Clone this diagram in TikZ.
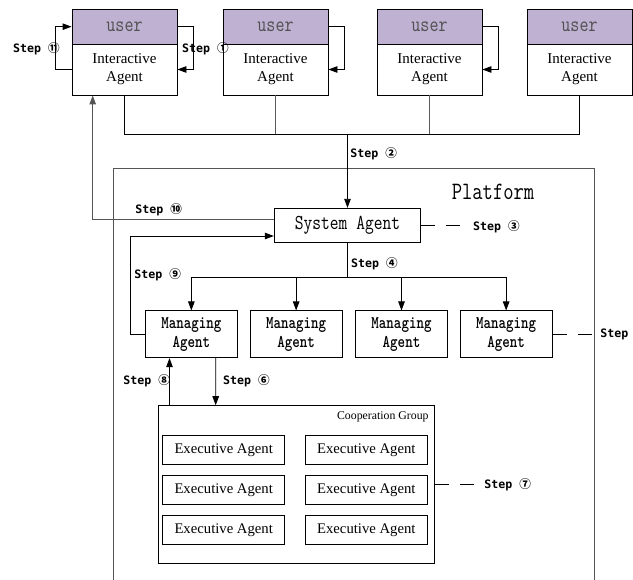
\documentclass[tikz,border=0pt]{standalone}
\usepackage{fontspec}
\usepackage{graphicx}
\setmainfont{Liberation Serif}
\newfontfamily\stepfnt{DejaVu Sans Mono}
\newfontfamily\circfnt{Noto Sans CJK SC}
\usetikzlibrary{arrows.meta,calc}
\definecolor{band}{RGB}{191,177,210}
\definecolor{usertxt}{RGB}{80,80,80}
\definecolor{frame}{RGB}{85,85,85}
\newcommand\vs[1]{\scalebox{1}[1.25]{#1}}
\newcommand\stp[1]{{\stepfnt\bfseries Step {\circfnt\bfseries #1}}}
\tikzset{
  userbox/.style={draw, fill=band, minimum width=105pt, minimum height=34.7pt, inner sep=0pt,
    font=\ttfamily\fontsize{17.5}{20}\selectfont, text=usertxt},
  iabox/.style={draw, fill=white, minimum width=105pt, minimum height=51pt, inner sep=0pt, align=center,
    font=\fontsize{15}{18}\selectfont},
  sabox/.style={draw, fill=white, minimum width=146.4pt, minimum height=34.4pt, inner sep=0pt,
    font=\ttfamily\fontsize{17}{20}\selectfont},
  mabox/.style={draw, fill=white, minimum width=92.3pt, minimum height=46.7pt, inner sep=0pt, align=center,
    font=\ttfamily\bfseries\fontsize{14.3}{19}\selectfont},
  eabox/.style={draw, fill=white, minimum width=121.6pt, minimum height=29.3pt, inner sep=0pt,
    font=\fontsize{14.7}{17}\selectfont},
  grpbox/.style={draw, minimum width=275.9pt, minimum height=158.2pt, inner sep=0pt},
  steplbl/.style={anchor=west, inner sep=0pt, font=\fontsize{11.6}{14}\selectfont},
  arr/.style={-{Triangle[length=9pt,width=6.5pt]}},
  dsh/.style={dash pattern=on 14pt off 11pt},
}
\begin{document}
\begin{tikzpicture}[x=1pt,y=-1pt,line width=0.9pt]
\useasboundingbox (0,0) rectangle (633,580);
% platform frame
\draw[frame] (113.6,168.5) rectangle (594.3,600);
\node[inner sep=0pt, font=\ttfamily\fontsize{20}{24}\selectfont] (plat) at (493,191.7) {\vs{Platform}};
% top boxes
\foreach \i/\x in {1/124.5,2/275.5,3/429.5,4/579.5}{
  \node[userbox] (u\i) at (\x,26.7) {\vs{user}};
  \node[iabox] (i\i) at (\x,69.5) {Interactive\\Agent};
}
% system agent
\node[sabox] (sa) at (347.5,225.5) {\vs{System Agent}};
% managing agents
\foreach \i/\x in {1/191.35,2/296.15,3/401.5,4/506.15}{
  \node[mabox] (ma\i) at (\x,334.3) {\vs{Managing}\\\vs{Agent}};
}
% cooperation group
\node[grpbox] (cg) at (296.45,484.8) {};
\node[anchor=east, inner sep=0pt, font=\fontsize{11.8}{14}\selectfont] (cgl) at (429,417) {Cooperation Group};
\foreach \r/\y in {1/450,2/490.2,3/529.9}{
  \node[eabox] (ea\r a) at (223.7,\y) {Executive Agent};
  \node[eabox] (ea\r b) at (366.3,\y) {Executive Agent};
}
% self loops (step 1 / step 11)
\foreach \i in {1,2,3}{
  \draw[arr] (u\i.east) -- ++(16,0) |- (i\i.east);
}
\draw[arr] (i1.west) -- ++(-16,0) |- (u1.west);
% bus from interactive agents to system agent
\coordinate (bus) at (347.5,134.3);
\draw (i1.south) -- (i1.south |- bus) -- (i4.south |- bus) -- (i4.south);
\draw[gray!70!black] (i2.south) -- (i2.south |- bus);
\draw[gray!70!black] (i3.south) -- (i3.south |- bus);
\draw[arr] (bus) -- (sa.north);
% step 10
\coordinate (r10) at ($(i1.south)+(-31.8,0)$);
\draw[arr, frame] ($(sa.west)+(0,-6.5)$) -| (r10);
% step 9
\draw[arr] (ma1.west) -- ++(-14.3,0) |- ($(sa.west)+(0,10.5)$);
% step 4 distribution
\coordinate (bus2) at (347.5,277.3);
\draw (sa.south) -- (bus2);
\draw (ma1.north |- bus2) -- (ma4.north |- bus2);
\foreach \i in {1,2,3,4}{
  \draw[arr] (ma\i.north |- bus2) -- (ma\i.north);
}
% step 8 and step 6
\draw[arr] ($(cg.north)+(-126.95,0)$) -- ($(ma1.south)+(-21.85,0)$);
\draw[arr] ($(ma1.south)+(24.35,0)$) -- ($(cg.north)+(-80.75,0)$);
% dashed step lines
\coordinate (d3) at (461.7,225.5);
\coordinate (d5) at (593.3,334.3);
\coordinate (d7) at (475.9,484.8);
\draw[dsh] (sa.east) -- (d3);
\draw[dsh] (ma4.east) -- (d5);
\draw[dsh] (cg.east) -- (d7);
% step labels
\node[steplbl] (s11) at (12.7,48.3) {\stp{⑪}};
\node[steplbl] (s1) at (181.7,48.3) {\stp{①}};
\node[steplbl] (s2) at (350,154) {\stp{②}};
\node[steplbl] (s10) at (135,210) {\stp{⑩}};
\node[steplbl] (s3) at (472.7,227) {\stp{③}};
\node[steplbl] (s4) at (350.7,263.3) {\stp{④}};
\node[steplbl] (s9) at (134,275) {\stp{⑨}};
\node[steplbl] (s5) at (600,333.3) {\stp{⑤}};
\node[steplbl] (s8) at (123,381) {\stp{⑧}};
\node[steplbl] (s6) at (222.7,381) {\stp{⑥}};
\node[steplbl] (s7) at (484,485) {\stp{⑦}};
\end{tikzpicture}
\end{document}
